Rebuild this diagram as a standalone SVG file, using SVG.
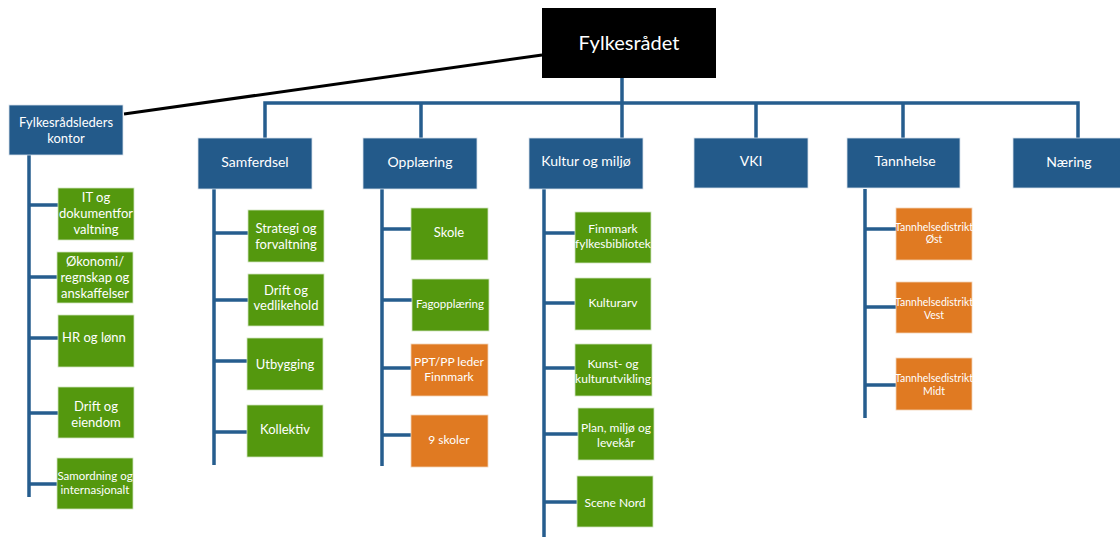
<svg xmlns="http://www.w3.org/2000/svg" width="1120" height="539" viewBox="0 0 1120 539">
<style>
.bg{fill:#ffffff}
.top{fill:#000000}
.dept{fill:#235a8a;stroke:#d8e0ea;stroke-width:0.8}
.g{fill:#54980e;stroke:#cfe3bf;stroke-width:0.8}
.o{fill:#e07a22;stroke:#f3d2b4;stroke-width:0.8}
.ln{stroke:#265d8e;stroke-width:3.5;fill:none;stroke-linejoin:miter}
.bl{stroke:#000000;stroke-width:3;fill:none}
text{font-family:Lato,"Open Sans","Liberation Sans",sans-serif;fill:#ffffff;text-anchor:middle}
.t22{font-size:20px}
.t14{font-size:14px}
.t13{font-size:13px}
.t12{font-size:12px}
.t11{font-size:11.5px}
.t10{font-size:10.5px}
</style>
<rect class="bg" x="0" y="0" width="1120" height="539"/>
<g id="connectors">
<path class="bl" d="M124,114 L542,55"/>
<path class="ln" d="M265,138 V103 H1078 V138"/>
<path class="ln" d="M622,78 V138 M421,103 V138 M756,103 V138 M903,103 V138"/>
<path class="ln" d="M29,155 V497 M29,205 H58 M29,277 H57 M29,338 H58 M29,413 H58 M29,484 H57"/>
<path class="ln" d="M214,189 V465 M214,233 H248 M214,300 H248 M214,361 H247 M214,432 H247"/>
<path class="ln" d="M382,189 V466 M382,229 H411 M382,300 H412 M382,368 H411 M382,435 H411"/>
<path class="ln" d="M544,189 V537 M544,233 H575 M544,303 H575 M544,368 H575 M544,434 H578 M544,502 H577"/>
<path class="ln" d="M865,189 V418 M865,229 H896 M865,307 H896 M865,385 H896"/>
</g>
<g id="fylkesradet"><rect class="top" x="542" y="8" width="174" height="70"/><text class="t22" x="629" y="50">Fylkesrådet</text></g>
<g id="fylkesradsleders-kontor"><rect class="dept" x="9" y="105" width="114" height="50"/><text class="t13" x="66" y="127">Fylkesrådsleders</text><text class="t13" x="66" y="143">kontor</text></g>
<g id="samferdsel"><rect class="dept" x="198" y="138" width="114" height="51"/><text class="t14" x="255" y="167">Samferdsel</text></g>
<g id="opplaering"><rect class="dept" x="363" y="138" width="114" height="51"/><text class="t14" x="420" y="167">Opplæring</text></g>
<g id="kultur"><rect class="dept" x="529" y="138" width="114" height="51"/><text class="t14" x="586" y="166">Kultur og miljø</text></g>
<g id="vki"><rect class="dept" x="694" y="138" width="114" height="50"/><text class="t14" x="751" y="166">VKI</text></g>
<g id="tannhelse"><rect class="dept" x="847" y="138" width="113" height="50"/><text class="t14" x="905" y="166">Tannhelse</text></g>
<g id="naering"><rect class="dept" x="1013" y="138" width="110" height="50"/><text class="t14" x="1069" y="167">Næring</text></g>

<g id="it"><rect class="g" x="58" y="188" width="76" height="52"/><text class="t13" x="96" y="202">IT og</text><text class="t13" x="96" y="218">dokumentfor</text><text class="t13" x="96" y="234">valtning</text></g>
<g id="okonomi"><rect class="g" x="57" y="252" width="76" height="51"/><text class="t13" x="95" y="266">Økonomi/</text><text class="t13" x="95" y="282">regnskap og</text><text class="t13" x="95" y="298">anskaffelser</text></g>
<g id="hr"><rect class="g" x="58" y="315" width="76" height="52"/><text class="t13" x="94" y="342">HR og lønn</text></g>
<g id="drift-eiendom"><rect class="g" x="58" y="387" width="76" height="51"/><text class="t13" x="96" y="411">Drift og</text><text class="t13" x="96" y="427">eiendom</text></g>
<g id="samordning"><rect class="g" x="57" y="458" width="76" height="51"/><text class="t11" x="95" y="480">Samordning og</text><text class="t11" x="95" y="494">internasjonalt</text></g>

<g id="strategi"><rect class="g" x="248" y="210" width="76" height="52"/><text class="t13" x="286" y="233">Strategi og</text><text class="t13" x="286" y="249">forvaltning</text></g>
<g id="drift-vedlikehold"><rect class="g" x="248" y="274" width="76" height="52"/><text class="t13" x="286" y="295">Drift og</text><text class="t13" x="286" y="310">vedlikehold</text></g>
<g id="utbygging"><rect class="g" x="247" y="338" width="76" height="52"/><text class="t13" x="285" y="369">Utbygging</text></g>
<g id="kollektiv"><rect class="g" x="247" y="405" width="76" height="52"/><text class="t13" x="285" y="434">Kollektiv</text></g>

<g id="skole"><rect class="g" x="411" y="208" width="77" height="52"/><text class="t13" x="449" y="237">Skole</text></g>
<g id="fagopplaering"><rect class="g" x="412" y="279" width="77" height="52"/><text class="t11" x="450" y="308">Fagopplæring</text></g>
<g id="ppt"><rect class="o" x="411" y="344" width="77" height="52"/><text class="t12" x="449" y="366">PPT/PP leder</text><text class="t12" x="449" y="381">Finnmark</text></g>
<g id="ni-skoler"><rect class="o" x="411" y="415" width="77" height="52"/><text class="t12" x="449" y="444">9 skoler</text></g>

<g id="fylkesbibliotek"><rect class="g" x="575" y="212" width="76" height="51"/><text class="t12" x="613" y="233">Finnmark</text><text class="t12" x="613" y="248">fylkesbibliotek</text></g>
<g id="kulturarv"><rect class="g" x="575" y="278" width="76" height="52"/><text class="t12" x="613" y="307">Kulturarv</text></g>
<g id="kunst"><rect class="g" x="575" y="344" width="77" height="52"/><text class="t12" x="613" y="368">Kunst- og</text><text class="t12" x="613" y="383">kulturutvikling</text></g>
<g id="plan"><rect class="g" x="578" y="408" width="76" height="52"/><text class="t12" x="616" y="432">Plan, miljø og</text><text class="t12" x="616" y="447">levekår</text></g>
<g id="scene-nord"><rect class="g" x="577" y="476" width="76" height="51"/><text class="t12" x="615" y="507">Scene Nord</text></g>

<g id="tannhelse-ost"><rect class="o" x="896" y="208" width="76" height="52"/><text class="t10" x="934" y="231">Tannhelsedistrikt</text><text class="t10" x="934" y="243">Øst</text></g>
<g id="tannhelse-vest"><rect class="o" x="896" y="282" width="76" height="51"/><text class="t10" x="934" y="306">Tannhelsedistrikt</text><text class="t10" x="934" y="319">Vest</text></g>
<g id="tannhelse-midt"><rect class="o" x="896" y="358" width="76" height="52"/><text class="t10" x="934" y="382">Tannhelsedistrikt</text><text class="t10" x="934" y="395">Midt</text></g>
</svg>
